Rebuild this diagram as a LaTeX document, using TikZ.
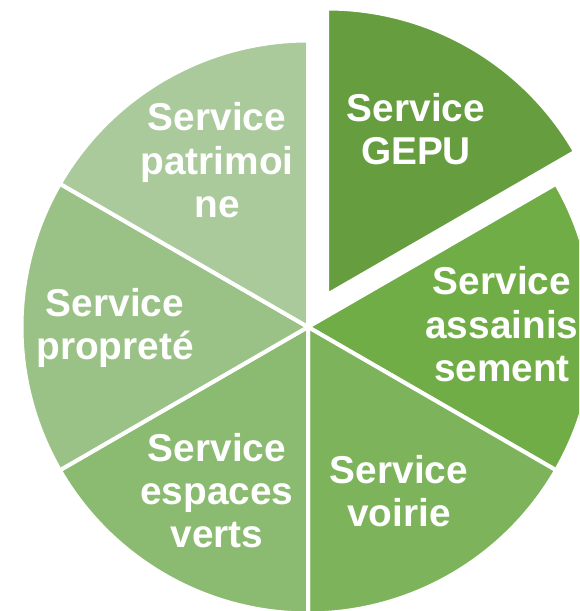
\documentclass[tikz,border=0pt]{standalone}
\usepackage{fontspec}
\setmainfont{Liberation Sans}
\definecolor{cGepu}{HTML}{659D3F}
\definecolor{cAssain}{HTML}{70AD47}
\definecolor{cVoirie}{HTML}{7DB45B}
\definecolor{cEspaces}{HTML}{8BBB70}
\definecolor{cProprete}{HTML}{9BC286}
\definecolor{cPatrim}{HTML}{AACA9C}
\begin{document}
\begin{tikzpicture}[x=1pt,y=1pt,
  slice/.style={draw=white,line width=4pt,line join=round},
  lbl/.style={text=white,font=\bfseries\fontsize{38.8}{43.5}\selectfont,align=center,anchor=base,inner sep=0pt}]
\useasboundingbox (0,0) rectangle (579,611);
\clip (0,0) rectangle (579,611);
\coordinate (C) at (308,284);
\coordinate (A) at (327,316);
\def\R{286.5}
\filldraw[slice,fill=cAssain] (C) -- ++(-30:\R) arc[start angle=-30,end angle=30,radius=\R] -- cycle;
\filldraw[slice,fill=cVoirie] (C) -- ++(270:\R) arc[start angle=270,end angle=330,radius=\R] -- cycle;
\filldraw[slice,fill=cEspaces] (C) -- ++(210:\R) arc[start angle=210,end angle=270,radius=\R] -- cycle;
\filldraw[slice,fill=cProprete] (C) -- ++(150:\R) arc[start angle=150,end angle=210,radius=\R] -- cycle;
\filldraw[slice,fill=cPatrim] (C) -- ++(90:\R) arc[start angle=90,end angle=150,radius=\R] -- cycle;
\filldraw[slice,fill=cGepu] (A) -- ++(30:\R) arc[start angle=30,end angle=90,radius=\R] -- cycle;
\node[lbl] (gepu) at (416,446) {Service\\GEPU};
\node[lbl] (patrim) at (217,393) {Service\\patrimoi\\ne};
\node[lbl] (propre) at (115,251) {Service\\propreté};
\node[lbl] (espaces) at (217,63) {Service\\espaces\\verts};
\node[lbl] (voirie) at (399,84) {Service\\voirie};
\node[lbl] (assain) at (502,229) {Service\\assainis\\sement};
\end{tikzpicture}
\end{document}
